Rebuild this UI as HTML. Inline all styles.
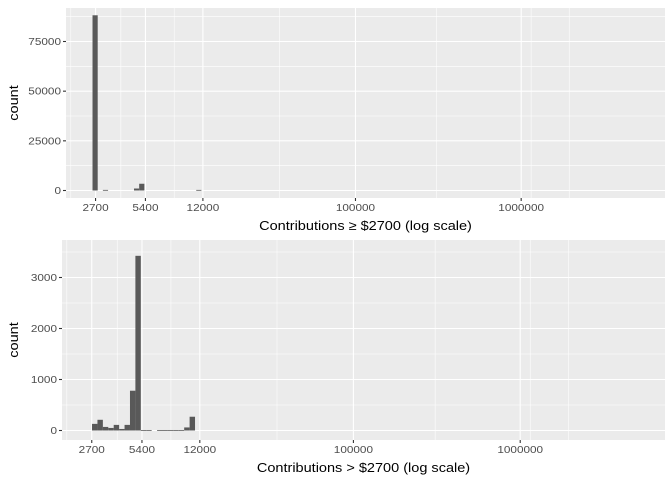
<!DOCTYPE html>
<html><head><meta charset="utf-8"><style>
html,body{margin:0;padding:0;background:#fff;}
svg{display:block;font-family:"Liberation Sans",sans-serif;}
</style></head><body>
<svg id="chart" width="672" height="480" xmlns="http://www.w3.org/2000/svg"></svg>
<script>
// X axis (log10 scale)
const xBreaks = [2700, 5400, 12000, 100000, 1000000];
const xBreakLabels = ["2700", "5400", "12000", "100000", "1000000"];
const xMinorLogs = [3.282, 3.584, 3.906, 4.542, 5.49, 6.06, 6.29];
// Top panel data
const topBinStartLog = 3.413;
const topBinWidthLog = 0.0313;
const topCounts = [88200,0,300,0,0,0,0,0,1000,3400,0,0,0,0,0,0,0,0,0,0,300];
const topYTicks = [0, 25000, 50000, 75000];
const topYLabels = ["0", "25000", "50000", "75000"];
// Bottom panel data
const botBinStartLog = 3.433;
const botBinWidthLog = 0.0325;
const botCounts = [130,210,70,50,110,30,110,780,3425,10,10,0,10,10,10,10,10,60,270];
const botYTicks = [0, 1000, 2000, 3000];
const botYLabels = ["0", "1000", "2000", "3000"];

const NS = "http://www.w3.org/2000/svg";
const svg = document.getElementById("chart");
function mk(tag, attrs, parent){const e=document.createElementNS(NS,tag);for(const k in attrs)e.setAttribute(k,attrs[k]);(parent||svg).appendChild(e);return e;}
function stretch(t, f){const w=t.getComputedTextLength();t.setAttribute("textLength",w*f);t.setAttribute("lengthAdjust","spacingAndGlyphs");}

const domLo = 3.253, domHi = 6.868;

function panel(opts){
  const {left,right,top,bottom,yMax,yTicks,yLabels,counts,start,width,title,name} = opts;
  const g = mk("g",{});
  
  
  const x = v => left + (v - domLo) / (domHi - domLo) * (right - left);
  const y0 = opts.y0;
  const y = c => y0 - c / yMax * (y0 - opts.yAt);
  const bg = mk("rect",{x:left,y:top,width:right-left,height:bottom-top,fill:"#EBEBEB"},g);
  
  
  xMinorLogs.forEach(v=>{ if(x(v)>left&&x(v)<right){const l=mk("line",{x1:x(v),x2:x(v),y1:top,y2:bottom,stroke:"#fff","stroke-width":0.55},g);}});
  const step = yTicks[1]-yTicks[0];
  for(let v=-step/2; v<=yTicks[yTicks.length-1]+step; v+=step){const yy=y(v); if(yy>top&&yy<bottom){const l=mk("line",{x1:left,x2:right,y1:yy,y2:yy,stroke:"#fff","stroke-width":0.55},g);}}
  xBreaks.forEach((b,i)=>{const xx=x(Math.log10(b));
    const l=mk("line",{x1:xx,x2:xx,y1:top,y2:bottom,stroke:"#fff","stroke-width":1.1},g);
    const t=mk("line",{x1:xx,x2:xx,y1:bottom,y2:bottom+3,stroke:"#333","stroke-width":1.1},g);
    const tx=mk("text",{x:xx,y:bottom+13,"text-anchor":"middle","font-size":9.8,fill:"#4D4D4D"},g);tx.textContent=xBreakLabels[i];stretch(tx,1.2);});
  yTicks.forEach((v,i)=>{const yy=y(v);
    const l=mk("line",{x1:left,x2:right,y1:yy,y2:yy,stroke:"#fff","stroke-width":1.1},g);
    const t=mk("line",{x1:left-3,x2:left,y1:yy,y2:yy,stroke:"#333","stroke-width":1.1},g);
    const tx=mk("text",{x:left-5,y:yy+3.5,"text-anchor":"end","font-size":9.8,fill:"#4D4D4D"},g);tx.textContent=yLabels[i];stretch(tx,1.2);});
  counts.forEach((c,i)=>{ if(c<=0) return;
    const a=x(start+i*width), b=x(start+(i+1)*width);
    const r=mk("rect",{x:a,y:y(c),width:b-a,height:Math.max(y0-y(c),0.8),fill:"#595959"},g);
    
    });
  const xt=mk("text",{x:(left+right)/2,y:bottom+32,"text-anchor":"middle","font-size":13.2,fill:"#000"},g);
  xt.textContent=title;stretch(xt,1.1);
  const yt=mk("text",{x:0,y:0,transform:`translate(18,${(top+bottom)/2}) rotate(-90)`,"text-anchor":"middle","font-size":13.2,fill:"#000"},g);
  yt.textContent="count";stretch(yt,1.1);
}

panel({name:"top-panel",left:66,right:665,top:8,bottom:198,y0:190.5,yAt:41.5,yMax:75000,yTicks:topYTicks,yLabels:topYLabels,counts:topCounts,start:topBinStartLog,width:topBinWidthLog,title:"Contributions \u2265 $2700 (log scale)"});
panel({name:"bottom-panel",left:62,right:665,top:240,bottom:440,y0:430.5,yAt:277.5,yMax:3000,yTicks:botYTicks,yLabels:botYLabels,counts:botCounts,start:botBinStartLog,width:botBinWidthLog,title:"Contributions > $2700 (log scale)"});
</script>
</body></html>
